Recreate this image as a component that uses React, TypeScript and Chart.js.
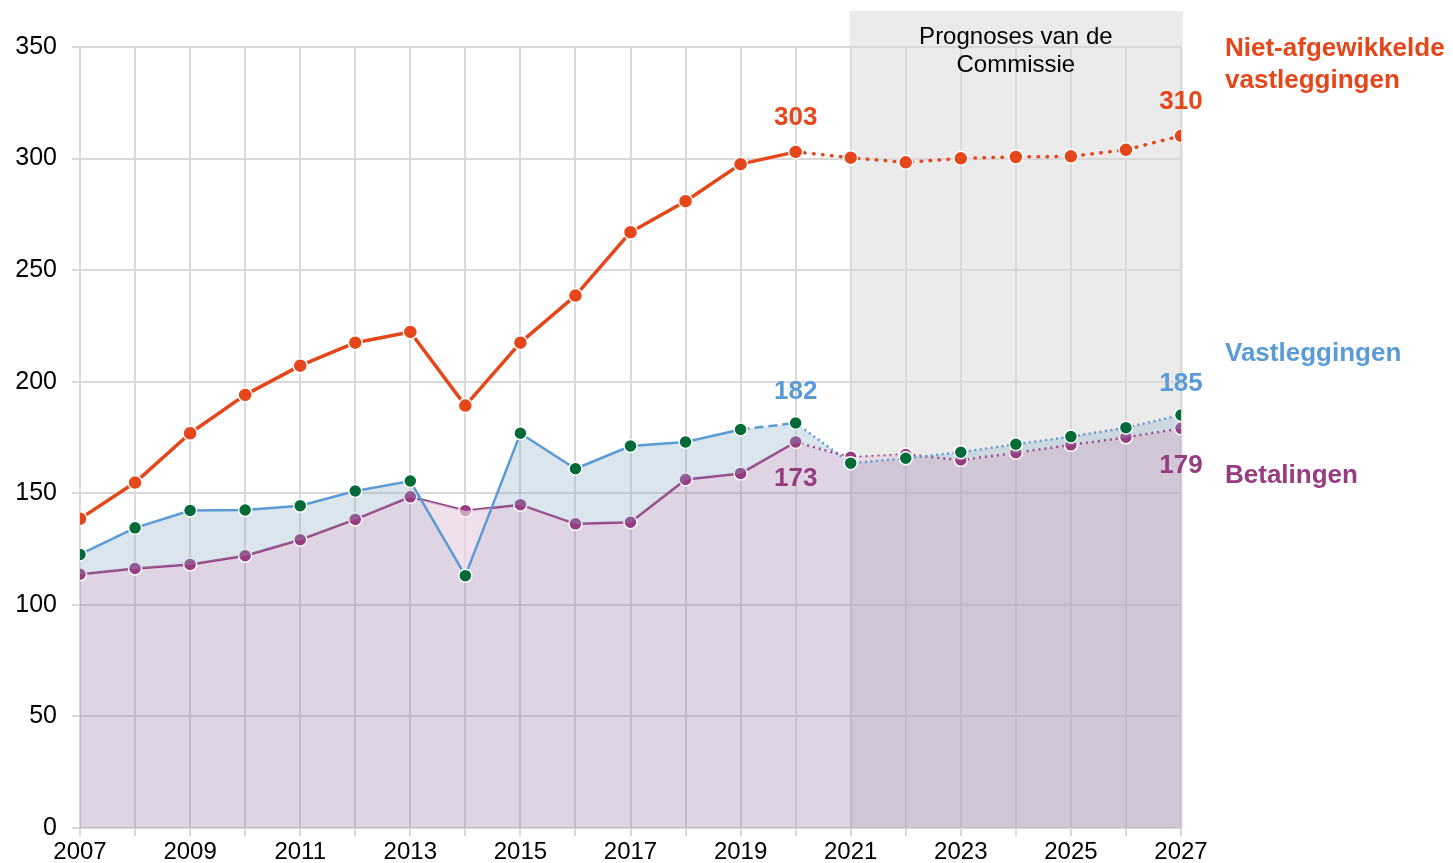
import React, { useEffect, useRef } from 'react';
import { Chart, registerables } from 'chart.js';

Chart.register(...registerables);

// ---- Data ----
const years = [2007, 2008, 2009, 2010, 2011, 2012, 2013, 2014, 2015, 2016, 2017, 2018, 2019, 2020, 2021, 2022, 2023, 2024, 2025, 2026, 2027];
const outstandingCommitments = [138.6, 154.8, 176.9, 194.1, 207.2, 217.5, 222.3, 189.3, 217.5, 238.6, 267.0, 280.9, 297.5, 303.0, 300.4, 298.3, 300.1, 300.7, 301.0, 303.9, 310.2];
const commitments = [122.6, 134.5, 142.3, 142.5, 144.4, 151.0, 155.5, 113.1, 176.9, 161.0, 171.2, 173.0, 178.6, 181.5, 163.5, 165.7, 168.4, 172.0, 175.4, 179.4, 185.1];
const payments = [113.7, 116.3, 118.1, 122.0, 129.2, 138.3, 148.4, 142.2, 144.9, 136.3, 137.0, 156.2, 158.9, 173.0, 166.1, 167.4, 164.9, 168.2, 171.7, 175.1, 179.1];
const seriesNames = ['Niet-afgewikkelde vastleggingen', 'Vastleggingen', 'Betalingen'];
const seriesLabelLines = [['Niet-afgewikkelde', 'vastleggingen'], ['Vastleggingen'], ['Betalingen']];
const forecastLabelLines = ['Prognoses van de', 'Commissie'];
const forecastFrom = 2021;
const forecastTo = 2027;
const lastActualYear = 2020;
const calloutYears = [2020, 2027];
const yMin = 0;
const yMax = 350;
const yStep = 50;

const FONT = '"Liberation Sans", Arial, Helvetica, sans-serif';
const RED = '#e5461a';
const BLUE = '#5b9bd5';
const GREEN = '#036b38';
const PURPLE = '#963c80';
const GRID = '#d9d9d9';

const lastActualIndex = years.indexOf(lastActualYear);

const forecastBoxPlugin = {
  id: 'forecastBox',
  beforeDraw(chart: any) {
    const { ctx, chartArea } = chart;
    const x = chart.scales.x;
    const x0 = x.getPixelForValue(forecastFrom);
    const x1 = x.getPixelForValue(forecastTo);
    const top = chartArea.top - 36;
    ctx.save();
    ctx.fillStyle = '#ebebeb';
    ctx.fillRect(x0 - 1, top, x1 - x0 + 3, chartArea.bottom - top);
    ctx.restore();
  },
  afterDatasetsDraw(chart: any) {
    const { ctx, chartArea } = chart;
    const x = chart.scales.x;
    const cx = (x.getPixelForValue(forecastFrom) + x.getPixelForValue(forecastTo)) / 2;
    ctx.save();
    ctx.font = `24px ${FONT}`;
    ctx.fillStyle = '#000';
    ctx.textAlign = 'center';
    ctx.textBaseline = 'middle';
    forecastLabelLines.forEach((line, i) => {
      ctx.fillText(line, cx, chartArea.top - 10 + i * 28);
    });
    ctx.restore();
  },
};

const labelsPlugin = {
  id: 'valueLabels',
  afterDraw(chart: any) {
    const { ctx, chartArea } = chart;
    const x = chart.scales.x;
    const y = chart.scales.y;
    ctx.save();
    ctx.font = `bold 26px ${FONT}`;
    ctx.textAlign = 'center';
    ctx.textBaseline = 'middle';
    const specs = [
      { data: outstandingCommitments, color: RED, dy: -34 },
      { data: commitments, color: BLUE, dy: -31 },
      { data: payments, color: PURPLE, dy: 37 },
    ];
    specs.forEach((s) => {
      calloutYears.forEach((yr) => {
        const i = years.indexOf(yr);
        const v = s.data[i];
        ctx.fillStyle = s.color;
        ctx.fillText(String(Math.round(v)), x.getPixelForValue(yr), y.getPixelForValue(v) + s.dy);
      });
    });
    // series names on the right
    ctx.textAlign = 'left';
    const lx = chartArea.right + 44;
    const colors = [RED, BLUE, PURPLE];
    const tops = [chartArea.top + 2, chartArea.top + 307, chartArea.top + 429];
    seriesLabelLines.forEach((lines, si) => {
      ctx.fillStyle = colors[si];
      lines.forEach((line, li) => {
        ctx.fillText(line, lx, tops[si] + li * 32);
      });
    });
    ctx.restore();
  },
};

export default function App() {
  const canvasRef = useRef<HTMLCanvasElement | null>(null);

  useEffect(() => {
    document.body.style.margin = '0';
    const canvas = canvasRef.current;
    if (!canvas) return;
    const toXY = (arr: number[]) => arr.map((v, i) => ({ x: years[i], y: v }));

    const chart = new Chart(canvas, {
      type: 'line',
      data: {
        datasets: [
          {
            label: seriesNames[0],
            data: toXY(outstandingCommitments),
            borderColor: RED,
            backgroundColor: RED,
            borderWidth: 3.5,
            borderCapStyle: 'round',
            borderJoinStyle: 'round',
            pointRadius: 7,
            pointBackgroundColor: RED,
            pointBorderColor: '#ffffff',
            pointBorderWidth: 1.5,
            fill: false,
            tension: 0,
            segment: {
              borderDash: (ctx: any) => (ctx.p0DataIndex >= lastActualIndex ? [0.5, 8.5] : undefined),
            },
          } as any,
          {
            label: seriesNames[1],
            data: toXY(commitments),
            borderColor: BLUE,
            backgroundColor: BLUE,
            borderWidth: 2.5,
            pointRadius: 6.5,
            pointBackgroundColor: GREEN,
            pointBorderColor: '#ffffff',
            pointBorderWidth: 1.5,
            fill: { target: 2, above: 'rgba(135,168,195,0.3)', below: 'rgba(250,232,240,0.6)' },
            tension: 0,
            segment: {
              borderDash: (ctx: any) =>
                ctx.p0DataIndex >= lastActualIndex ? [2, 3.5] : ctx.p0DataIndex === lastActualIndex - 1 ? [9, 5] : undefined,
            },
          } as any,
          {
            label: seriesNames[2],
            data: toXY(payments),
            borderColor: PURPLE,
            backgroundColor: 'rgba(148,112,162,0.3)',
            borderWidth: 2.5,
            pointRadius: 6.5,
            pointBackgroundColor: PURPLE,
            pointBorderColor: '#ffffff',
            pointBorderWidth: 1.5,
            fill: 'origin',
            tension: 0,
            segment: {
              borderDash: (ctx: any) => (ctx.p0DataIndex >= lastActualIndex ? [2, 4] : undefined),
            },
          } as any,
        ],
      },
      options: {
        responsive: false,
        animation: false,
        events: [],
        layout: { padding: { top: 47, right: 272, left: 0, bottom: 0 } },
        plugins: {
          legend: { display: false },
          tooltip: { enabled: false },
        },
        scales: {
          x: {
            type: 'linear',
            min: years[0],
            max: years[years.length - 1],
            ticks: {
              stepSize: 1,
              autoSkip: false,
              maxRotation: 0,
              padding: 2,
              color: '#000',
              font: { family: FONT, size: 24 },
              callback: (v: any) => ((Number(v) - years[0]) % 2 === 0 ? String(v) : ''),
            },
            grid: { color: GRID, lineWidth: 2, tickLength: 8, drawTicks: true },
            border: { display: false },
            afterFit: (s: any) => {
              s.height = 35;
            },
          },
          y: {
            min: yMin,
            max: yMax,
            ticks: {
              stepSize: yStep,
              padding: 15,
              color: '#000',
              font: { family: FONT, size: 25 },
            },
            grid: { color: GRID, lineWidth: 2, tickLength: 8, drawTicks: true },
            border: { display: false },
            afterFit: (s: any) => {
              s.width = 80;
            },
          },
        },
      } as any,
      plugins: [forecastBoxPlugin, labelsPlugin],
    });
    return () => chart.destroy();
  }, []);

  return (
    <div style={{ position: 'absolute', left: 0, top: 0, width: 1453, height: 863 }}>
      <canvas ref={canvasRef} width={1453} height={863} style={{ display: 'block' }} />
    </div>
  );
}
